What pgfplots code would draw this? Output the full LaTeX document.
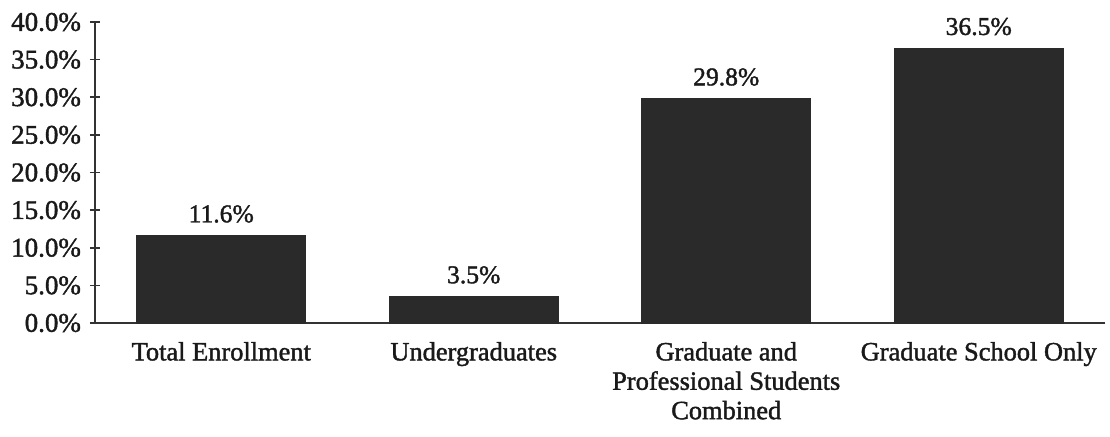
\documentclass[border=0pt]{standalone}
\usepackage{pgfplots}
\pgfplotsset{compat=1.18}
\usepackage{fontspec}
\setmainfont{Liberation Serif}[FakeBold=1.5]
\definecolor{barc}{HTML}{2A2A2A}
\definecolor{axc}{HTML}{333333}
\begin{document}
\begin{tikzpicture}
\useasboundingbox (-47.5pt,-56.5pt) rectangle (507.5pt,161.5pt);
\begin{axis}[
  scale only axis,
  width=505pt, height=150.5pt,
  xmin=-0.5, xmax=3.5,
  ymin=0, ymax=40,
  axis lines*=left,
  axis line style={axc, line width=1pt},
  every tick/.style={axc, line width=0.8pt},
  tick align=center,
  ytick={0,5,...,40},
  major tick length=5pt,
  xtick={0,1,2,3},
  xticklabels={Total Enrollment, Undergraduates, {Graduate and\\Professional Students\\Combined}, Graduate School Only},
  x tick style={draw=none},
  minor xtick={0.5,1.5,2.5},
  minor x tick style={axc, line width=0.8pt},
  minor tick length=6pt,
  xticklabel style={align=center, font=\fontsize{13.2}{14.7}\selectfont, yshift=-1pt, text=black!90},
  yticklabel style={font=\fontsize{13.5}{14.5}\selectfont, xshift=-1pt, text=black!90},
  /pgf/number format/assume math mode=true,
  yticklabel={\pgfmathprintnumber[fixed,fixed zerofill,precision=1]{\tick}\%},
  ybar,
  bar width=0.67,
  nodes near coords={\pgfmathprintnumber[fixed,fixed zerofill,precision=1]{\pgfplotspointmeta}\%},
  nodes near coords style={font=\fontsize{12.8}{14.5}\selectfont, yshift=3pt, text=black!90},
  clip=false,
]
\addplot[fill=barc, draw=barc] coordinates {(0,11.6) (1,3.5) (2,29.8) (3,36.5)};
\end{axis}
\end{tikzpicture}
\end{document}
